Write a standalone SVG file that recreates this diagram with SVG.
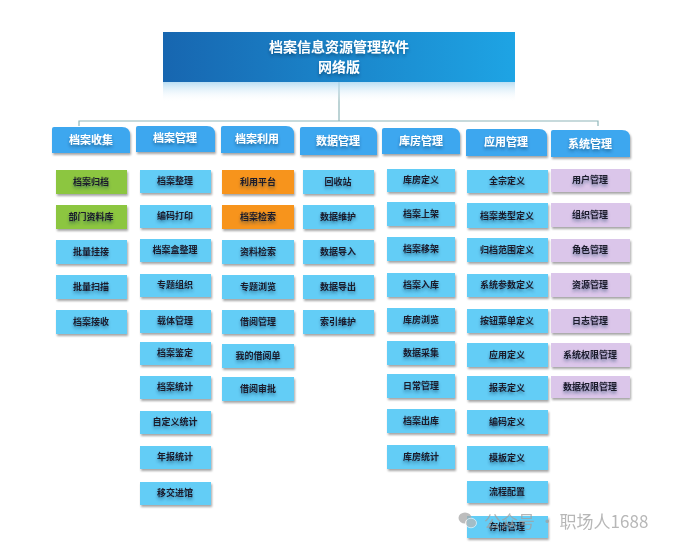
<svg xmlns="http://www.w3.org/2000/svg" width="682" height="548" viewBox="0 0 682 548">
<style>
text{font-family:"Noto Sans CJK SC","Liberation Sans",sans-serif;text-anchor:middle}
.leaf{fill:#63cdf6;filter:url(#sh)}
.grn{fill:#8cc63f;filter:url(#sh)}
.org{fill:#f7941d;filter:url(#sh)}
.pur{fill:#dbc6ea;filter:url(#sh)}
.hd{fill:#3ea7ef;filter:url(#sh)}
.lt{font-size:9px;font-weight:bold;fill:#1a1a2a;filter:url(#ts)}
.ht{font-size:11px;font-weight:bold;fill:#ffffff;filter:url(#ts)}
.tt{font-size:14px;font-weight:bold;fill:#ffffff;filter:url(#ts)}
.ln{stroke:#8fb6b9;stroke-width:1.2;fill:none}
</style>
<defs>
<filter id="sh" x="-10%" y="-20%" width="130%" height="160%">
<feDropShadow dx="1" dy="2" stdDeviation="1.3" flood-color="#000" flood-opacity="0.35"/>
</filter>
<filter id="ts" x="-20%" y="-50%" width="140%" height="220%">
<feDropShadow dx="0" dy="2.5" stdDeviation="1.6" flood-color="#0a2a50" flood-opacity="0.45"/>
</filter>
<linearGradient id="tg" x1="0" y1="0" x2="1" y2="0">
<stop offset="0" stop-color="#1766b0"/>
<stop offset="1" stop-color="#1ea4e4"/>
</linearGradient>
<linearGradient id="rg" x1="0" y1="0" x2="0" y2="1">
<stop offset="0" stop-color="#a9d6f0" stop-opacity="0.8"/>
<stop offset="1" stop-color="#ffffff" stop-opacity="0"/>
</linearGradient>
</defs>
<rect width="682" height="548" fill="#ffffff"/>

<g id="connectors">
<path class="ln" d="M339 82 V121" stroke="#9ca0b4"/>
<path class="ln" d="M79 126 V121 H598 V126"/>
</g>

<g id="title">
<rect x="163" y="82" width="352" height="20" fill="url(#rg)"/>
<rect x="163" y="32" width="352" height="50" fill="url(#tg)"/>
<text class="tt" x="339" y="52">档案信息资源管理软件</text>
<text class="tt" x="339" y="72">网络版</text>
</g>

<g id="h1"><path class="hd" d="M54 127 H122 Q130 127 130 135 V153 H52 V129 Q52 127 54 127 Z"/><text class="ht" x="91" y="144">档案收集</text></g>
<g id="h2"><path class="hd" d="M138 126 H207 Q215 126 215 134 V152 H136 V128 Q136 126 138 126 Z"/><text class="ht" x="175" y="142">档案管理</text></g>
<g id="h3"><path class="hd" d="M223 126 H286 Q294 126 294 134 V153 H221 V128 Q221 126 223 126 Z"/><text class="ht" x="257" y="143">档案利用</text></g>
<g id="h4"><path class="hd" d="M302 127 H369 Q377 127 377 135 V155 H300 V129 Q300 127 302 127 Z"/><text class="ht" x="338" y="145">数据管理</text></g>
<g id="h5"><path class="hd" d="M384 128 H452 Q460 128 460 136 V154 H382 V130 Q382 128 384 128 Z"/><text class="ht" x="421" y="145">库房管理</text></g>
<g id="h6"><path class="hd" d="M468 129 H539 Q547 129 547 137 V156 H466 V131 Q466 129 468 129 Z"/><text class="ht" x="506" y="146">应用管理</text></g>
<g id="h7"><path class="hd" d="M553 130 H622 Q630 130 630 138 V157 H551 V132 Q551 130 553 130 Z"/><text class="ht" x="590" y="148">系统管理</text></g>

<!-- column 1 -->
<g id="c1r1"><rect class="grn" x="56" y="170" width="71" height="24"/><text class="lt" x="91" y="185">档案归档</text></g>
<g id="c1r2"><rect class="grn" x="56" y="205" width="71" height="24"/><text class="lt" x="91" y="220">部门资料库</text></g>
<g id="c1r3"><rect class="leaf" x="56" y="240" width="71" height="24"/><text class="lt" x="91" y="255">批量挂接</text></g>
<g id="c1r4"><rect class="leaf" x="56" y="275" width="71" height="24"/><text class="lt" x="91" y="290">批量扫描</text></g>
<g id="c1r5"><rect class="leaf" x="56" y="310" width="71" height="24"/><text class="lt" x="91" y="325">档案接收</text></g>

<!-- column 2 -->
<g id="c2r1"><rect class="leaf" x="140" y="170" width="71" height="23"/><text class="lt" x="175" y="184">档案整理</text></g>
<g id="c2r2"><rect class="leaf" x="140" y="205" width="71" height="23"/><text class="lt" x="175" y="219">编码打印</text></g>
<g id="c2r3"><rect class="leaf" x="140" y="239" width="71" height="23"/><text class="lt" x="175" y="253">档案盒整理</text></g>
<g id="c2r4"><rect class="leaf" x="140" y="274" width="71" height="23"/><text class="lt" x="175" y="288">专题组织</text></g>
<g id="c2r5"><rect class="leaf" x="140" y="310" width="71" height="23"/><text class="lt" x="175" y="324">载体管理</text></g>
<g id="c2r6"><rect class="leaf" x="140" y="342" width="71" height="23"/><text class="lt" x="175" y="356">档案鉴定</text></g>
<g id="c2r7"><rect class="leaf" x="140" y="376" width="71" height="23"/><text class="lt" x="175" y="390">档案统计</text></g>
<g id="c2r8"><rect class="leaf" x="140" y="411" width="71" height="23"/><text class="lt" x="175" y="425">自定义统计</text></g>
<g id="c2r9"><rect class="leaf" x="140" y="446" width="71" height="23"/><text class="lt" x="175" y="460">年报统计</text></g>
<g id="c2r10"><rect class="leaf" x="140" y="482" width="71" height="23"/><text class="lt" x="175" y="496">移交进馆</text></g>

<!-- column 3 -->
<g id="c3r1"><rect class="org" x="222" y="170" width="72" height="24"/><text class="lt" x="258" y="185">利用平台</text></g>
<g id="c3r2"><rect class="org" x="222" y="205" width="72" height="24"/><text class="lt" x="258" y="220">档案检索</text></g>
<g id="c3r3"><rect class="leaf" x="222" y="240" width="72" height="24"/><text class="lt" x="258" y="255">资料检索</text></g>
<g id="c3r4"><rect class="leaf" x="222" y="275" width="72" height="24"/><text class="lt" x="258" y="290">专题浏览</text></g>
<g id="c3r5"><rect class="leaf" x="222" y="310" width="72" height="24"/><text class="lt" x="258" y="325">借阅管理</text></g>
<g id="c3r6"><rect class="leaf" x="222" y="344" width="72" height="24"/><text class="lt" x="258" y="359">我的借阅单</text></g>
<g id="c3r7"><rect class="leaf" x="222" y="377" width="72" height="24"/><text class="lt" x="258" y="392">借阅审批</text></g>

<!-- column 4 -->
<g id="c4r1"><rect class="leaf" x="303" y="170" width="71" height="24"/><text class="lt" x="338" y="185">回收站</text></g>
<g id="c4r2"><rect class="leaf" x="303" y="205" width="71" height="24"/><text class="lt" x="338" y="220">数据维护</text></g>
<g id="c4r3"><rect class="leaf" x="303" y="240" width="71" height="24"/><text class="lt" x="338" y="255">数据导入</text></g>
<g id="c4r4"><rect class="leaf" x="303" y="275" width="71" height="24"/><text class="lt" x="338" y="290">数据导出</text></g>
<g id="c4r5"><rect class="leaf" x="303" y="310" width="71" height="24"/><text class="lt" x="338" y="325">索引维护</text></g>

<!-- column 5 -->
<g id="c5r1"><rect class="leaf" x="387" y="169" width="68" height="23"/><text class="lt" x="421" y="183">库房定义</text></g>
<g id="c5r2"><rect class="leaf" x="387" y="202" width="68" height="24"/><text class="lt" x="421" y="217">档案上架</text></g>
<g id="c5r3"><rect class="leaf" x="387" y="237" width="68" height="24"/><text class="lt" x="421" y="252">档案移架</text></g>
<g id="c5r4"><rect class="leaf" x="387" y="273" width="68" height="24"/><text class="lt" x="421" y="288">档案入库</text></g>
<g id="c5r5"><rect class="leaf" x="387" y="308" width="68" height="24"/><text class="lt" x="421" y="323">库房浏览</text></g>
<g id="c5r6"><rect class="leaf" x="387" y="341" width="68" height="24"/><text class="lt" x="421" y="356">数据采集</text></g>
<g id="c5r7"><rect class="leaf" x="387" y="374" width="68" height="24"/><text class="lt" x="421" y="389">日常管理</text></g>
<g id="c5r8"><rect class="leaf" x="387" y="409" width="68" height="24"/><text class="lt" x="421" y="424">档案出库</text></g>
<g id="c5r9"><rect class="leaf" x="387" y="445" width="68" height="24"/><text class="lt" x="421" y="460">库房统计</text></g>

<!-- column 6 -->
<g id="c6r1"><rect class="leaf" x="467" y="170" width="81" height="23"/><text class="lt" x="507" y="184">全宗定义</text></g>
<g id="c6r2"><rect class="leaf" x="467" y="203" width="81" height="25"/><text class="lt" x="507" y="219">档案类型定义</text></g>
<g id="c6r3"><rect class="leaf" x="467" y="238" width="81" height="24"/><text class="lt" x="507" y="253">归档范围定义</text></g>
<g id="c6r4"><rect class="leaf" x="467" y="274" width="81" height="23"/><text class="lt" x="507" y="288">系统参数定义</text></g>
<g id="c6r5"><rect class="leaf" x="467" y="309" width="81" height="24"/><text class="lt" x="507" y="324">按钮菜单定义</text></g>
<g id="c6r6"><rect class="leaf" x="467" y="343" width="81" height="24"/><text class="lt" x="507" y="358">应用定义</text></g>
<g id="c6r7"><rect class="leaf" x="467" y="376" width="81" height="24"/><text class="lt" x="507" y="391">报表定义</text></g>
<g id="c6r8"><rect class="leaf" x="467" y="410" width="81" height="24"/><text class="lt" x="507" y="425">编码定义</text></g>
<g id="c6r9"><rect class="leaf" x="467" y="446" width="81" height="24"/><text class="lt" x="507" y="461">模板定义</text></g>
<g id="c6r10"><rect class="leaf" x="467" y="481" width="81" height="22"/><text class="lt" x="507" y="495">流程配置</text></g>
<g id="c6r11"><rect class="leaf" x="467" y="516" width="81" height="22"/><text class="lt" x="507" y="530">存储管理</text></g>

<!-- column 7 -->
<g id="c7r1"><rect class="pur" x="551" y="169" width="79" height="23"/><text class="lt" x="590" y="183">用户管理</text></g>
<g id="c7r2"><rect class="pur" x="551" y="203" width="79" height="24"/><text class="lt" x="590" y="218">组织管理</text></g>
<g id="c7r3"><rect class="pur" x="551" y="239" width="79" height="23"/><text class="lt" x="590" y="253">角色管理</text></g>
<g id="c7r4"><rect class="pur" x="551" y="273" width="79" height="24"/><text class="lt" x="590" y="288">资源管理</text></g>
<g id="c7r5"><rect class="pur" x="551" y="309" width="79" height="24"/><text class="lt" x="590" y="324">日志管理</text></g>
<g id="c7r6"><rect class="pur" x="551" y="343" width="79" height="24"/><text class="lt" x="590" y="358">系统权限管理</text></g>
<g id="c7r7"><rect class="pur" x="551" y="376" width="79" height="22"/><text class="lt" x="590" y="390">数据权限管理</text></g>

<g id="watermark" opacity="0.75">
<ellipse cx="465" cy="518" rx="6.5" ry="5.5" fill="#a8a8a8"/>
<ellipse cx="471" cy="523" rx="5.5" ry="4.8" fill="#b8b8b8" stroke="#ffffff" stroke-width="0.8"/>
<text x="484" y="528" style="text-anchor:start;font-size:17px;fill:#a0a0a0;font-family:'Noto Sans CJK SC',sans-serif">公众号 · 职场人1688</text>
</g>
</svg>
